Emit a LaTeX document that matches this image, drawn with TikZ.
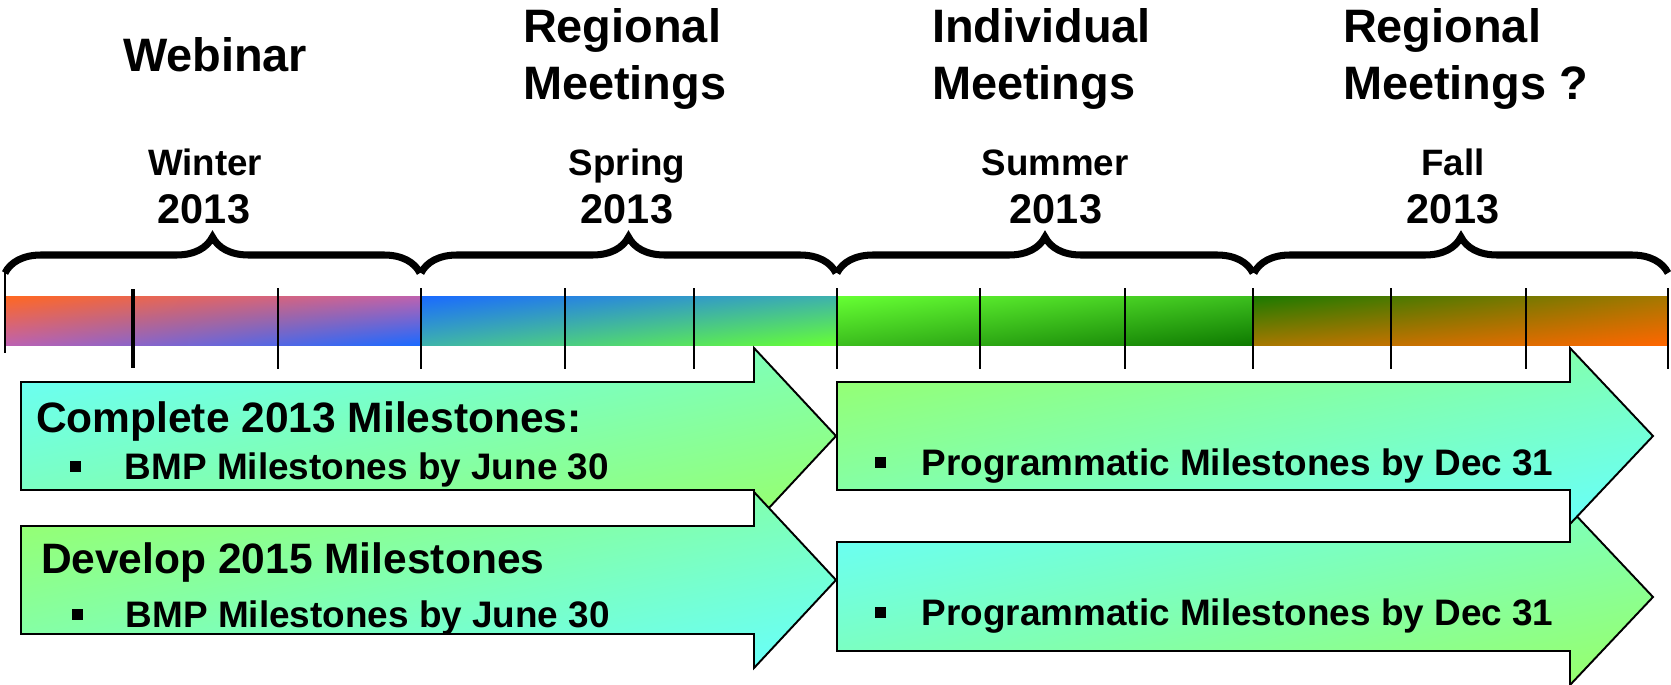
\documentclass[tikz,border=0pt]{standalone}
\usepackage{fontspec}
\setmainfont{Liberation Sans}
\usetikzlibrary{decorations.pathreplacing,shadings}

\definecolor{winterA}{RGB}{255,104,32}
\definecolor{winterM}{RGB}{190,98,176}
\definecolor{winterB}{RGB}{26,106,255}
\definecolor{springM}{RGB}{62,178,172}
\definecolor{springB}{RGB}{102,255,51}
\definecolor{summerM}{RGB}{60,190,30}
\definecolor{summerB}{RGB}{14,122,0}
\definecolor{fallA}{RGB}{26,122,0}
\definecolor{fallM}{RGB}{165,120,0}
\definecolor{fallB}{RGB}{255,102,0}
\definecolor{arrowcyan}{RGB}{102,255,255}
\definecolor{arrowgreen}{RGB}{153,255,102}
\definecolor{arrowmix}{RGB}{128,255,180}

\newcommand{\sqitem}[1]{\makebox[#1][l]{\rule[4pt]{6pt}{6pt}}}

\tikzset{
  plaintxt/.style={inner sep=0pt, outer sep=0pt},
  headtxt/.style={plaintxt, anchor=base west, align=left, font=\fontsize{26.7}{31.9}\selectfont\bfseries},
  seasontxt/.style={plaintxt, anchor=base, font=\fontsize{20.9}{25}\selectfont\bfseries},
  yeartxt/.style={plaintxt, anchor=base, font=\fontsize{23.6}{28}\selectfont\bfseries},
  titletxt/.style={plaintxt, anchor=base west, font=\fontsize{24.2}{29}\selectfont\bfseries},
  itemtxt/.style={plaintxt, anchor=base west, font=\fontsize{21}{25}\selectfont\bfseries},
  tickline/.style={line width=1.1pt},
  seasonbrace/.style={line width=4pt, decorate, decoration={brace, amplitude=20.5pt}},
  arrowbox/.style={draw=black, line width=1.1pt, line join=miter},
}

\begin{document}
\begin{tikzpicture}[x=0.02cm, y=-0.02cm]
\useasboundingbox (0,0) rectangle (1671,684);

% season bar
\shade[upper left=winterA, upper right=winterM, lower left=winterM, lower right=winterB] (5,296) rectangle (421,345);
\shade[upper left=winterB, upper right=springM, lower left=springM, lower right=springB] (421,296) rectangle (837,345);
\shade[upper left=springB, upper right=summerM, lower left=summerM, lower right=summerB] (837,296) rectangle (1253,345);
\shade[upper left=fallA, upper right=fallM, lower left=fallM, lower right=fallB] (1253,296) rectangle (1668,345);

% month ticks
\draw[tickline] (5,272) -- (5,353);
\draw[tickline, line width=2.3pt] (133,289) -- (133,368);
\foreach \x in {278,421,565,694,837,980,1125,1253,1391,1526,1668}
  \draw[tickline] (\x,288) -- (\x,369);

% braces over the seasons
\foreach \a/\b in {5/420, 421/836, 837/1253, 1254/1668}
  \draw[seasonbrace] (\a,273) -- (\b,273);

% headings (base = last line)
\node[headtxt] (webinar) at (123,71) {Webinar};
\node[headtxt] (regional) at (523,99) {Regional\\Meetings};
\node[headtxt] (individual) at (932,99) {Individual\\Meetings};
\node[headtxt] (regionalq) at (1343,99) {Regional\\Meetings ?};

\node[seasontxt] (winter) at (205,175) {Winter};
\node[yeartxt] (winteryr) at (204,223) {2013};
\node[seasontxt] (spring) at (627,175) {Spring};
\node[yeartxt] (springyr) at (627,223) {2013};
\node[seasontxt] (summer) at (1055,175) {Summer};
\node[yeartxt] (summeryr) at (1056,223) {2013};
\node[seasontxt] (fall) at (1453,175) {Fall};
\node[yeartxt] (fallyr) at (1453,223) {2013};

% milestone arrows
\shadedraw[arrowbox, upper left=arrowcyan, upper right=arrowmix, lower left=arrowmix, lower right=arrowgreen]
  (21,382) -- (754,382) -- (754,348) -- (836,436) -- (754,524) -- (754,490) -- (21,490) -- cycle;
\shadedraw[arrowbox, upper left=arrowgreen, upper right=arrowmix, lower left=arrowmix, lower right=arrowcyan]
  (21,526) -- (754,526) -- (754,492) -- (836,580) -- (754,668) -- (754,634) -- (21,634) -- cycle;
\shadedraw[arrowbox, upper left=arrowcyan, upper right=arrowmix, lower left=arrowmix, lower right=arrowgreen]
  (837,542) -- (1570,542) -- (1570,509) -- (1653,597) -- (1570,685) -- (1570,651) -- (837,651) -- cycle;
\shadedraw[arrowbox, upper left=arrowgreen, upper right=arrowmix, lower left=arrowmix, lower right=arrowcyan]
  (837,382) -- (1570,382) -- (1570,348) -- (1653,436) -- (1570,524) -- (1570,490) -- (837,490) -- cycle;

\node[titletxt] (complete) at (36,432) {Complete 2013 Milestones:};
\node[itemtxt] (bmpA) at (70,479) {\sqitem{31.3pt}BMP Milestones by June 30};
\node[titletxt] (develop) at (41,573) {Develop 2015 Milestones};
\node[itemtxt] (bmpB) at (72,627) {\sqitem{30.7pt}BMP Milestones by June 30};
\node[itemtxt] (progA) at (875,475) {\sqitem{26.7pt}Programmatic Milestones by Dec 31};
\node[itemtxt] (progB) at (875,625) {\sqitem{26.7pt}Programmatic Milestones by Dec 31};
\end{tikzpicture}
\end{document}
